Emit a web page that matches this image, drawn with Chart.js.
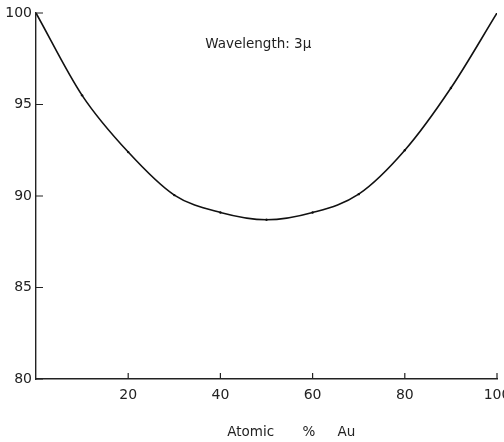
<!DOCTYPE html>
<html>
<head>
<meta charset="utf-8">
<script src="https://cdn.jsdelivr.net/npm/chart.js@4"></script>
<style>
  html, body { margin: 0; padding: 0; background: #fff; }
  #wrap { width: 504px; height: 442px; }
</style>
</head>
<body>
<div id="wrap"><canvas id="c"></canvas></div>
<script>
const atomicPctAu = [0, 10, 20, 30, 40, 50, 60, 70, 80, 90, 100];
const reflectance = [100, 95.5, 92.4, 90.05, 89.1, 88.7, 89.1, 90.1, 92.5, 95.9, 100];
const xTicks = [20, 40, 60, 80, 100];
const yTicks = [80, 85, 90, 95, 100];
const noteText = 'Wavelength: 3\u03bc';
const xTitleWords = [['Atomic', 41.5], ['%', 57.8], ['Au', 65.4]];

const FONT = '"DejaVu Sans", "Liberation Sans", sans-serif';

// inward ticks, the wavelength note and the spaced-out x title
const extras = {
    id: 'extras',
    afterDraw(chart) {
        const ctx = chart.ctx;
        const x = chart.scales.x, y = chart.scales.y;
        ctx.save();
        ctx.strokeStyle = '#222';
        ctx.lineWidth = 1.2;
        ctx.beginPath();
        yTicks.forEach(v => {
            const py = y.getPixelForValue(v);
            ctx.moveTo(x.left, py);
            ctx.lineTo(x.left + 7, py);
        });
        xTicks.forEach(v => {
            const px = x.getPixelForValue(v);
            ctx.moveTo(px, y.bottom);
            ctx.lineTo(px, y.bottom - 6);
        });
        ctx.stroke();
        ctx.fillStyle = '#222';
        ctx.font = '13.5px ' + FONT;
        ctx.textBaseline = 'middle';
        ctx.textAlign = 'left';
        ctx.fillText(noteText, x.getPixelForValue(36.7), y.getPixelForValue(98.3));
        xTitleWords.forEach(([w, v]) => {
            ctx.fillText(w, x.getPixelForValue(v), chart.height - 10);
        });
        ctx.restore();
    }
};

new Chart(document.getElementById('c'), {
    type: 'line',
    data: {
        datasets: [{
            data: atomicPctAu.map((a, i) => ({ x: a, y: reflectance[i] })),
            borderColor: '#111',
            borderWidth: 1.6,
            pointRadius: 1.2,
            pointBackgroundColor: '#111',
            pointBorderWidth: 0,
            cubicInterpolationMode: 'monotone',
            fill: false
        }]
    },
    options: {
        responsive: true,
        maintainAspectRatio: false,
        animation: false,
        layout: { autoPadding: false, padding: { top: 13, right: 7, left: 0, bottom: 0 } },
        plugins: { legend: { display: false }, tooltip: { enabled: false } },
        scales: {
            x: {
                type: 'linear',
                min: 0,
                max: 100,
                afterBuildTicks: s => { s.ticks = xTicks.map(v => ({ value: v })); },
                afterFit: s => { s.height = 63; s.paddingLeft = 0; s.paddingRight = 0; },
                grid: { display: false, drawTicks: false },
                border: { display: true, color: '#222', width: 1.4 },
                ticks: { color: '#222', font: { family: FONT, size: 14 }, padding: 8 }
            },
            y: {
                min: 80,
                max: 100,
                afterBuildTicks: s => { s.ticks = yTicks.map(v => ({ value: v })); },
                afterFit: s => { s.width = 36; s.paddingTop = 0; s.paddingBottom = 0; },
                grid: { display: false, drawTicks: false },
                border: { display: true, color: '#222', width: 1.4, dash: [5, 1] },
                ticks: { color: '#222', font: { family: FONT, size: 14 }, padding: 4 }
            }
        }
    },
    plugins: [extras]
});
</script>
</body>
</html>
